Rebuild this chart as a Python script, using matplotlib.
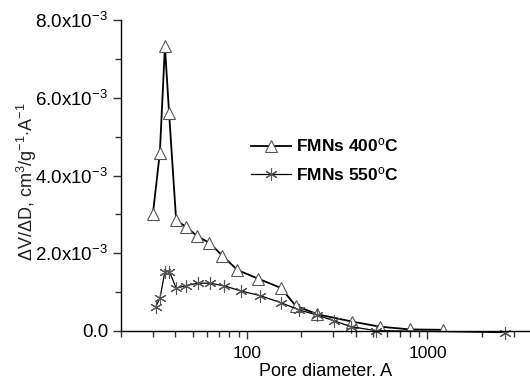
import matplotlib
matplotlib.use("Agg")
import matplotlib.pyplot as plt
from matplotlib.ticker import FixedLocator, NullFormatter, FuncFormatter

plt.rcParams['font.family'] = ['Liberation Sans', 'DejaVu Sans']
plt.rcParams['mathtext.fontset'] = 'custom'
plt.rcParams['mathtext.rm'] = 'Liberation Sans'
plt.rcParams['mathtext.it'] = 'Liberation Sans:italic'
plt.rcParams['mathtext.bf'] = 'Liberation Sans:bold'

# FMNs 400 C
d400 = [30.1, 32.9, 35.1, 37.0, 40.5, 46.0, 53.0, 61.8, 73.0, 88.4, 114.7, 153.9, 186, 245.6, 384, 546, 801, 1227]
v400 = [3.01e-3, 4.59e-3, 7.33e-3, 5.62e-3, 2.85e-3, 2.68e-3, 2.44e-3, 2.27e-3, 1.94e-3, 1.57e-3,
        1.35e-3, 1.11e-3, 0.65e-3, 0.43e-3, 0.24e-3, 0.11e-3, 0.04e-3, 0.03e-3]
# FMNs 550 C
d550 = [31.3, 33.0, 35.1, 37.2, 40.5, 46.2, 53.2, 62.5, 75.0, 92.5, 118.2, 153.9, 194.6, 245.6, 304, 377, 519, 2680]
v550 = [0.63e-3, 0.86e-3, 1.53e-3, 1.53e-3, 1.10e-3, 1.17e-3, 1.23e-3, 1.23e-3, 1.16e-3, 1.03e-3,
        0.91e-3, 0.73e-3, 0.54e-3, 0.41e-3, 0.26e-3, 0.11e-3, 0.01e-3, -0.04e-3]

labels = [r'FMNs 400$^{\mathrm{o}}$C', r'FMNs 550$^{\mathrm{o}}$C']
yticks_major = [0, 2e-3, 4e-3, 6e-3, 8e-3]
ytick_labels = ['0.0', r'2.0x10$^{-3}$', r'4.0x10$^{-3}$', r'6.0x10$^{-3}$', r'8.0x10$^{-3}$']
yticks_minor = [1e-3, 3e-3, 5e-3, 7e-3]

fig = plt.figure(figsize=(5.3, 3.8), dpi=100)
ax = fig.add_axes([0.228, 0.129, 0.772, 0.818])

ax.plot(d400, v400, color='black', lw=1.3, marker='^', markersize=8,
        markerfacecolor='white', markeredgecolor='#555555', markeredgewidth=0.8, label=labels[0])
ax.plot(d550, v550, color='black', lw=0.9, marker=(6, 2, 0), markersize=9,
        markeredgecolor='#555555', markeredgewidth=0.8, label=labels[1], clip_on=False)

ax.set_xscale('log')
ax.set_xlim(20, 3700)
ax.set_ylim(0, 8e-3)

ax.set_yticks(yticks_major)
ax.set_yticklabels(ytick_labels)
ax.yaxis.set_minor_locator(FixedLocator(yticks_minor))
ax.xaxis.set_major_locator(FixedLocator([100, 1000]))
ax.xaxis.set_major_formatter(FuncFormatter(lambda v, p: '%d' % v))
ax.xaxis.set_minor_locator(FixedLocator([20, 30, 40, 50, 60, 70, 80, 90, 200, 300, 400, 500, 600, 700, 800, 900, 2000, 3000]))
ax.xaxis.set_minor_formatter(NullFormatter())

for s in ['top', 'right']:
    ax.spines[s].set_visible(False)
for s in ['left', 'bottom']:
    ax.spines[s].set_linewidth(1.0)
ax.tick_params(axis='both', which='major', direction='out', length=6, width=1.0, color='#333333')
ax.tick_params(axis='both', which='minor', direction='out', length=4, width=1.0, color='#333333')
ax.tick_params(axis='x', which='major', pad=5, labelsize=12.5)
ax.tick_params(axis='y', which='major', pad=3, labelsize=13.5)

ax.set_xlabel('Pore diameter. A', fontsize=13, labelpad=1)
ax.set_ylabel(r'$\Delta$V/$\Delta$D, cm$^3$/g$^{-1}$$\cdot$A$^{-1}$', fontsize=13, color='#222222')
ax.yaxis.set_label_coords(-0.200, 0.479)

leg = ax.legend(loc='upper left', bbox_to_anchor=(0.28, 0.675), frameon=False,
                prop={'weight': 'bold', 'size': 12.5}, handlelength=2.3, handletextpad=0.3,
                labelspacing=0.6)

fig.savefig('out.png', dpi=100)
